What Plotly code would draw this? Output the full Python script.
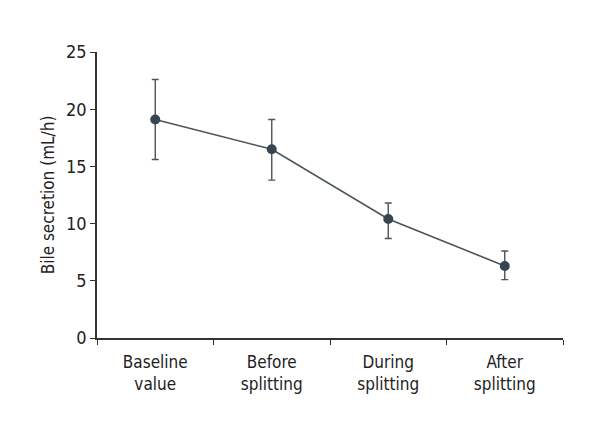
import plotly.graph_objects as go

categories = ["Baseline<br>value", "Before<br>splitting", "During<br>splitting", "After<br>splitting"]
means = [19.1, 16.5, 10.4, 6.3]
err_plus = [3.5, 2.6, 1.4, 1.3]
err_minus = [3.5, 2.7, 1.7, 1.2]

FONT = "Liberation Sans Narrow, DejaVu Sans Condensed, sans-serif"
DARK = "#36454f"

fig = go.Figure()
fig.add_trace(go.Scatter(
    x=categories, y=means,
    mode="lines+markers",
    line=dict(color="#4a555c", width=1.6),
    marker=dict(color=DARK, size=10),
    error_y=dict(type="data", symmetric=False, array=err_plus, arrayminus=err_minus,
                 color="#4a555c", thickness=1.4, width=3.5),
    showlegend=False,
))

fig.update_layout(
    width=600, height=440,
    margin=dict(l=89, r=45, t=44, b=110),
    plot_bgcolor="white", paper_bgcolor="white",
    font=dict(family=FONT, size=17, color="#222222"),
)
fig.update_xaxes(
    type="category", range=[-0.5, 3.5], tickson="boundaries",
    showline=True, linecolor="#333333", linewidth=1.5,
    ticks="outside", ticklen=5, tickcolor="#333333", tickwidth=1.2,
    showgrid=False, zeroline=False, ticklabelstandoff=8,
    tickfont=dict(family=FONT, size=17, color="#222222"),
)
fig.update_yaxes(
    range=[0, 25], dtick=5,
    showline=True, linecolor="#333333", linewidth=1.5,
    ticks="outside", ticklen=5, tickcolor="#333333", tickwidth=1.2,
    showgrid=False, zeroline=False,
    title=dict(text="Bile secretion (mL/h)", font=dict(family=FONT, size=17, color="#222222"), standoff=7),
    tickfont=dict(family=FONT, size=18, color="#222222"),
)

fig.write_html("out.html")
